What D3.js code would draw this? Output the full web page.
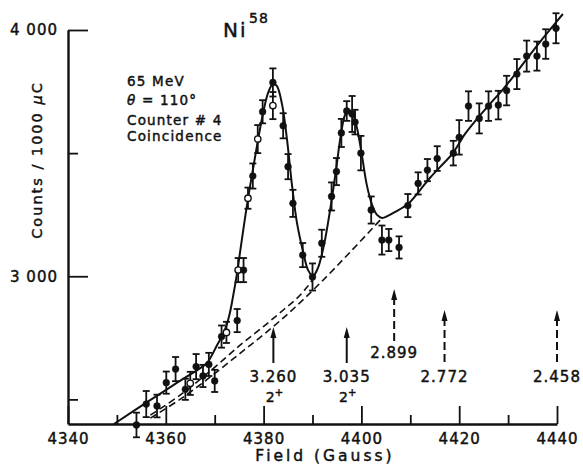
<!DOCTYPE html>
<html>
<head>
<meta charset="utf-8">
<script src="https://cdn.jsdelivr.net/npm/d3@7"></script>
<style>
  body { margin: 0; background: #fff; }
  text { font-family: "DejaVu Sans", "Liberation Sans", sans-serif; fill: #111; stroke: #111; stroke-width: 0.45px; }
</style>
</head>
<body>
<svg id="chart" width="583" height="464"></svg>
<script>
// Measured points: magnetic field (gauss), counts per 1000 microcoulomb, statistical error
const fields = [4354.0, 4356.0, 4358.2, 4360.1, 4362.0, 4364.0, 4365.0, 4366.2, 4367.6, 4368.8,
                4370.0, 4371.4, 4372.4, 4374.6, 4374.8, 4375.9, 4376.8, 4377.8, 4378.8, 4379.8,
                4381.9, 4381.9, 4384.0, 4385.0, 4386.0, 4388.0, 4390.0, 4391.9, 4393.9, 4394.9,
                4395.9, 4397.0, 4398.1, 4398.7, 4399.9, 4402.0, 4404.2, 4405.6, 4407.7, 4409.5,
                4411.6, 4413.5, 4415.5, 4418.8, 4420.0, 4421.9, 4424.1, 4426.0, 4428.0, 4429.7,
                4431.8, 4433.8, 4435.9, 4437.7, 4439.8];
const counts = [2396, 2481, 2473, 2568, 2623, 2541, 2565, 2633, 2595, 2642,
                2575, 2755, 2772, 2820, 3025, 3025, 3317, 3407, 3557, 3668,
                3787, 3693, 3611, 3445, 3296, 3086, 2997, 3134, 3324, 3425,
                3582, 3671, 3659, 3626, 3500, 3269, 3147, 3147, 3117, 3287,
                3377, 3431, 3478, 3500, 3564, 3691, 3641, 3691, 3695, 3754,
                3821, 3894, 3894, 3943, 4007];
const errors = [50, 53, 46, 45, 49, 43, 47, 51, 45, 47,
                45, 45, 43, 47, 49, 49, 43, 51, 57, 47,
                57, 55, 51, 51, 55, 49, 55, 55, 57, 55,
                57, 40, 73, 50, 70, 55, 59, 45, 45, 47,
                45, 45, 50, 50, 70, 60, 61, 60, 58, 60,
                61, 63, 59, 60, 61];
// 1 = open circle, 0 = filled circle
const hollow = [0, 0, 0, 0, 0, 0, 1, 0, 0, 0,
                0, 0, 1, 0, 1, 0, 1, 0, 1, 0,
                0, 1, 0, 0, 0, 0, 0, 0, 0, 0,
                0, 0, 0, 0, 0, 0, 0, 0, 0, 0,
                0, 0, 0, 0, 0, 0, 0, 0, 0, 0,
                0, 0, 0, 0, 0];

// Fitted line shape through both peaks
const fitField = [4349.4, 4356.8, 4362.9, 4368.4, 4369.45, 4370.5, 4371.5, 4372.3, 4373.1, 4373.7,
                  4374.6, 4375.6, 4376.8, 4377.8, 4378.85, 4379.9, 4380.9, 4381.9, 4382.7, 4383.8,
                  4384.8, 4385.8, 4386.8, 4388.1, 4389.1, 4390.1, 4391.1, 4392.35, 4393.6, 4394.8,
                  4395.8, 4396.65, 4397.5, 4398.3, 4399.1, 4400.1, 4401.1, 4402.2, 4403.2, 4404.2,
                  4405.4, 4406.9, 4409.5, 4412.0, 4414.0, 4416.1, 4418.7, 4421.2, 4423.8, 4426.3,
                  4429.0, 4431.6, 4434.1, 4436.5, 4439.0, 4441.2];
const fitCounts = [2400, 2497, 2575, 2648, 2680, 2721, 2757, 2794, 2851, 2912,
                   3017, 3155, 3314, 3431, 3553, 3663, 3744, 3781, 3773, 3695,
                   3553, 3371, 3220, 3098, 3025, 3001, 3033, 3127, 3269, 3431,
                   3574, 3655, 3675, 3655, 3602, 3492, 3371, 3289, 3249, 3237,
                   3245, 3261, 3293, 3350, 3399, 3444, 3500, 3578, 3643, 3700,
                   3760, 3825, 3890, 3951, 4012, 4065];

// Background estimates beneath the peaks (dashed)
const bgFieldA = [4356.85, 4362.98, 4369.1, 4375.25, 4380.35, 4384.03, 4386.9, 4388.9, 4389.95];
const bgCountsA = [2436, 2518, 2615, 2721, 2802, 2863, 2912, 2956, 2985];
const bgFieldB = [4356.85, 4362.98, 4369.1, 4375.25, 4381.4, 4386.5, 4391.6, 4397.7, 4404.2];
const bgCountsB = [2424, 2501, 2591, 2688, 2786, 2875, 2973, 3098, 3236];

// Expected positions of excited levels (MeV)
const levelField = [4382.0, 4397.0, 4406.7, 4417.0, 4440.0];
const levelEnergy = ["3.260", "3.035", "2.899", "2.772", "2.458"];
const levelSpin = ["2", "2", "", "", ""];
const levelDashed = [0, 0, 1, 1, 1];

// Axis ticks
const xMajor = [4340, 4360, 4380, 4400, 4420, 4440];
const xMinor = [4350, 4370, 4390, 4410, 4430];
const yMajor = [3000, 4000];
const yMinor = [2500, 3500];
const yTickLabels = ["3 000", "4 000"];

const svg = d3.select("#chart");
const x = d3.scaleLinear().domain([4340, 4440]).range([68, 557]);
const y = d3.scaleLinear().domain([2400, 4000]).range([424, 30]);

const ink = "#111";

// ---- axes ----
svg.append("g").attr("transform", `translate(0,${y(2400)})`)
  .call(d3.axisBottom(x).tickValues(xMajor).tickSize(-18).tickSizeOuter(0).tickPadding(9)
        .tickFormat(d3.format("d")));
svg.append("g").attr("transform", `translate(0,${y(2400)})`)
  .call(d3.axisBottom(x).tickValues(xMinor).tickSize(-9).tickSizeOuter(0).tickFormat(""))
  .select(".domain").remove();

svg.append("g").attr("transform", `translate(${x(4340)},0)`)
  .call(d3.axisLeft(y).tickValues(yMajor).tickSize(-20).tickSizeOuter(0).tickPadding(10)
        .tickFormat((d, i) => yTickLabels[i]));
svg.append("g").attr("transform", `translate(${x(4340)},0)`)
  .call(d3.axisLeft(y).tickValues(yMinor).tickSize(-10).tickSizeOuter(0).tickFormat(""))
  .select(".domain").remove();

svg.selectAll(".domain").attr("stroke", ink).attr("stroke-width", 2.4);
svg.selectAll(".tick line").attr("stroke", ink).attr("stroke-width", 1.8);
svg.selectAll(".tick text").attr("font-size", 15).attr("letter-spacing", 1)
  .attr("font-family", "DejaVu Sans").attr("fill", ink);

// axis titles
svg.append("text").attr("x", 325).attr("y", 461).attr("text-anchor", "middle")
  .attr("font-size", 15.5).attr("letter-spacing", 3).text("Field  (Gauss)");

const yTitle = svg.append("text").attr("transform", "translate(42,160) rotate(-90)")
  .attr("text-anchor", "middle").attr("font-size", 14.5).attr("letter-spacing", 2);
yTitle.append("tspan").text("Counts / 1000 ");
yTitle.append("tspan").attr("font-style", "italic").text("μ");
yTitle.append("tspan").text("C");

// ---- annotations ----
svg.append("text").attr("x", 223).attr("y", 37).attr("font-size", 20).attr("letter-spacing", 2).text("Ni");
svg.append("text").attr("x", 249).attr("y", 23).attr("font-size", 14).attr("letter-spacing", 1).text("58");

const notes = svg.append("g").attr("font-size", 13.5).attr("letter-spacing", 1.2);
notes.append("text").attr("x", 127).attr("y", 86).text("65  MeV");
const th = notes.append("text").attr("x", 127).attr("y", 105);
th.append("tspan").attr("font-style", "italic").text("θ");
th.append("tspan").text(" = 110°");
notes.append("text").attr("x", 127).attr("y", 125).text("Counter # 4");
notes.append("text").attr("x", 127).attr("y", 141).text("Coincidence");

// ---- background and fit lines ----
const line = d3.line().x(d => x(d[0])).y(d => y(d[1])).curve(d3.curveCatmullRom.alpha(0.5));

svg.append("path").datum(d3.zip(bgFieldA, bgCountsA)).attr("d", line)
  .attr("fill", "none").attr("stroke", ink).attr("stroke-width", 1.6).attr("stroke-dasharray", "7,4");
svg.append("path").datum(d3.zip(bgFieldB, bgCountsB)).attr("d", line)
  .attr("fill", "none").attr("stroke", ink).attr("stroke-width", 1.6).attr("stroke-dasharray", "7,4");
svg.append("path").datum(d3.zip(fitField, fitCounts)).attr("d", line)
  .attr("fill", "none").attr("stroke", ink).attr("stroke-width", 2);

// ---- data points with error bars ----
const pts = fields.map((f, i) => ({ f, c: counts[i], e: errors[i], open: hollow[i] }));
const g = svg.append("g").selectAll("g").data(pts).join("g");
g.append("line").attr("x1", d => x(d.f)).attr("x2", d => x(d.f))
  .attr("y1", d => y(d.c - d.e)).attr("y2", d => y(d.c + d.e))
  .attr("stroke", ink).attr("stroke-width", 1.8);
[1, -1].forEach(s => {
  g.append("line").attr("x1", d => x(d.f) - 3.5).attr("x2", d => x(d.f) + 3.5)
    .attr("y1", d => y(d.c + s * d.e)).attr("y2", d => y(d.c + s * d.e))
    .attr("stroke", ink).attr("stroke-width", 1.8);
});
g.append("circle").attr("cx", d => x(d.f)).attr("cy", d => y(d.c)).attr("r", d => d.open ? 3.2 : 3.4)
  .attr("fill", d => d.open ? "#fff" : ink).attr("stroke", ink).attr("stroke-width", d => d.open ? 1.4 : 0.5);

// ---- level markers ----
const arrowTop = [327, 327, 289, 310, 310];
const arrowBottom = [363, 363, 342, 362, 362];
const labelY = [382, 382, 358, 382, 382];
levelField.forEach((f, i) => {
  const ax = x(f);
  svg.append("line").attr("x1", ax).attr("x2", ax).attr("y1", arrowTop[i] + 8).attr("y2", arrowBottom[i])
    .attr("stroke", ink).attr("stroke-width", 2)
    .attr("stroke-dasharray", levelDashed[i] ? "8,4" : null);
  svg.append("path")
    .attr("d", `M${ax},${arrowTop[i]} L${ax - 3},${arrowTop[i] + 11} L${ax + 3},${arrowTop[i] + 11} Z`)
    .attr("fill", ink);
  svg.append("text").attr("x", ax).attr("y", labelY[i]).attr("text-anchor", "middle")
    .attr("font-size", 15).attr("letter-spacing", 1).text(levelEnergy[i]);
  if (levelSpin[i]) {
    const t = svg.append("text").attr("x", ax + 1).attr("y", labelY[i] + 20).attr("text-anchor", "middle")
      .attr("font-size", 14);
    t.append("tspan").text(levelSpin[i]);
    t.append("tspan").attr("font-size", 10).attr("dy", -6).text("+");
  }
});
</script>
</body>
</html>
